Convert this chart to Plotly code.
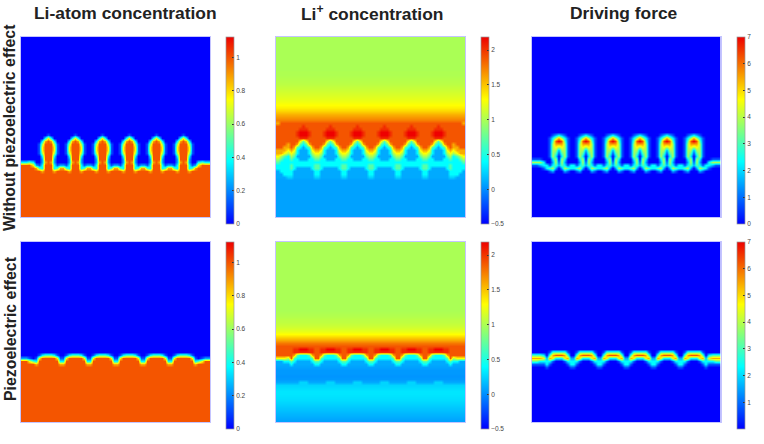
import plotly.graph_objects as go

W, H = 764, 444

# Digit = position on the colour bar in ninths; letters a-i = half steps (a=0.5 ... i=8.5).
# A bare number = one level over the whole row.
ATOM_TOP = [0] * 32 + [
    "0000 000010000",
    "0000 000363000",
    "0000 003787300",
    "0000 015888510",
    "0000 016888610",
    "0000 016888610",
    "0000 015888510",
    "0000 003888300",
    "0000 002888200",
    "3343 002787200",
    "8886 213888312",
    "8888 743888347",
    "8888 887888788",
] + [8] * 15

ION_TOP = [5] * 11 + [5.05, 5.05, 5.1, 5.15, 5.2, 5.3, 5.4, 5.5, 5.6, 5.7, 5.85, 6.0, 6.2, 6.5, 6.9, 7.2] + [
    "hhhh hhhhhhhhh",
    "7888 888888888",
    "8888 8888i8888",
    "8888 888iii888",
    "8888 88i999i88",
    "8888 88i999i88",
    "8888 888iii888",
    "8888 888646888",
    "8887 887434788",
    "8877 874323478",
    "7776 763222367",
    "7765 653222356",
    "6543 542222245",
    "5433 433222334",
    "4333 333333333",
    "3333 433333334",
    "3333 432222234",
    "2333 322222223",
    "2233 322222223",
    "222c c2222222c",
] + [1.9] * 13

FORCE_TOP = [0] * 32 + [
    "0000 001232100",
    "0000 013575310",
    "0000 014898410",
    "0000 015777510",
    "0000 015656510",
    "0000 015525510",
    "0000 015414510",
    "0000 015303510",
    "1110 003505300",
    "5553 002515200",
    "1123 313424313",
    "0001 345202543",
    "0000 012000210",
] + [0] * 15

ATOM_BOT = [0] * 37 + [
    "0000 013444310",
    "2210 168888861",
    "8864 388888883",
    "8888 788888887",
] + [8] * 19

ION_BOT = [5] * 23 + [5.05, 5.1, 5.2, 5.25, 5.35, 5.5, 5.7, 6.0, 6.5, 7.0, 7.6] + [
    "8888 888888888",
    "8888 8ii999ii8",
    "8888 8iiiiiii8",
    "8888 874333478",
    "6665 843333348",
    "2233 432222234",
    "2222 322222223",
    1.9, 1.8, 1.8, 1.75, 1.8,
    "2222 222ccc222",
    2.5,
    2.6, 2.7, 2.7, 2.65, 2.6, 2.5, 2.4, 2.3, 2.2, 2.1, 2.0, 1.9,
]

FORCE_BOT = [0] * 36 + [
    "0000 014444410",
    "4443 047888740",
    "7776 276333672",
    "4433 331000133",
    "1111 310000013",
    "0000 100000001",
] + [0] * 18

ROW_LABELS = ["Without piezoelectric effect", "Piezoelectric effect"]
COL_TITLES = ["Li-atom concentration", "Li<sup>+</sup> concentration", "Driving force"]
ATOM_RANGE = [0, 1.122]
ION_RANGE = [-0.5, 2.19]
FORCE_RANGE = [0, 7]
ATOM_TICKS = [0, 0.2, 0.4, 0.6, 0.8, 1]
ION_TICKS = [-0.5, 0, 0.5, 1, 1.5, 2]
FORCE_TICKS_TOP = [0, 1, 2, 3, 4, 5, 6, 7]
FORCE_TICKS_BOT = [1, 2, 3, 4, 5, 6, 7]

COLORS = [[0, "rgb(0,0,255)"], [1 / 3, "rgb(0,255,255)"], [2 / 3, "rgb(255,255,0)"], [1, "rgb(238,0,0)"]]
PERIODS = 6

edge_cols = [1.65, 4.95, 8.25, 11.55]
tile_step = 27.1 / 9
x_centres = edge_cols + [13.2 + (i + 0.5) * tile_step for i in range(9 * PERIODS)] + [189 - v for v in edge_cols[::-1]]
y_centres = [1.5 + 3 * i for i in range(60)]


def level(ch):
    return ord(ch) - 96 - 0.5 if ch.isalpha() else int(ch)


def expand(rows, zmin, zmax):
    out = []
    for row in rows:
        if isinstance(row, str):
            edge, tile = row.split()
            cells = [level(c) for c in edge + tile * PERIODS + edge[::-1]]
        else:
            cells = [row] * len(x_centres)
        out.append([zmin + (zmax - zmin) * c / 9 for c in cells])
    return out


PANEL_LEFT = [21, 276, 531.5]
BAR_LEFT = [226, 481, 737]
ROW_TOP = [37, 242]

panels = [
    (0, 0, ATOM_TOP, ATOM_RANGE, ATOM_TICKS),
    (0, 1, ION_TOP, ION_RANGE, ION_TICKS),
    (0, 2, FORCE_TOP, FORCE_RANGE, FORCE_TICKS_TOP),
    (1, 0, ATOM_BOT, ATOM_RANGE, ATOM_TICKS),
    (1, 1, ION_BOT, ION_RANGE, ION_TICKS),
    (1, 2, FORCE_BOT, FORCE_RANGE, FORCE_TICKS_BOT),
]

fig = go.Figure()
layout = {}
for n, (r, c, rows, rng, ticks) in enumerate(panels, start=1):
    sfx = "" if n == 1 else str(n)
    fig.add_trace(go.Heatmap(
        x=x_centres, y=y_centres, z=expand(rows, rng[0], rng[1]),
        xaxis="x" + sfx, yaxis="y" + sfx,
        zmin=rng[0], zmax=rng[1], zsmooth="best", colorscale=COLORS,
        colorbar=dict(
            x=BAR_LEFT[c] / W, xanchor="left", xpad=0, ypad=0,
            y=1 - ROW_TOP[r] / H, yanchor="top", len=186.5 / H, lenmode="fraction",
            thickness=7.5, thicknessmode="pixels",
            tickmode="array", tickvals=ticks, ticks="inside", ticklen=2, tickwidth=1, tickcolor="#333",
            tickfont=dict(size=6.5, color="#444", family="Liberation Sans"),
            outlinecolor="#999", outlinewidth=0.7,
        ),
    ))
    axis = dict(showgrid=False, zeroline=False, ticks="", showticklabels=False,
                showline=True, mirror=True, linecolor="#c4c4ff", linewidth=1)
    layout["xaxis" + sfx] = dict(axis, domain=[PANEL_LEFT[c] / W, (PANEL_LEFT[c] + 189) / W], range=[0, 189],
                                 anchor="y" + sfx)
    layout["yaxis" + sfx] = dict(axis, domain=[1 - (ROW_TOP[r] + 180) / H, 1 - ROW_TOP[r] / H], range=[180, 0],
                                 anchor="x" + sfx)

title_font = dict(family="Liberation Sans", size=17.4, color="#222")
side_font = dict(family="Liberation Sans", size=15.9, color="#222")
notes = []
for text, cx in zip(COL_TITLES, [125, 371.5, 623.5]):
    notes.append(dict(text="<b>%s</b>" % text, x=cx / W, y=1 - 13.5 / H, xref="paper", yref="paper",
                      xanchor="center", yanchor="middle", showarrow=False, font=title_font))
for text, cy in zip(ROW_LABELS, [128, 329]):
    notes.append(dict(text="<b>%s</b>" % text, x=10 / W, y=1 - cy / H, xref="paper", yref="paper",
                      xanchor="center", yanchor="middle", textangle=-90, showarrow=False, font=side_font))

fig.update_layout(width=W, height=H, margin=dict(l=0, r=0, t=0, b=0), paper_bgcolor="white",
                  plot_bgcolor="white", annotations=notes, **layout)
fig.write_html("out.html", post_script="document.body.style.margin='0';", config={"displayModeBar": False})
